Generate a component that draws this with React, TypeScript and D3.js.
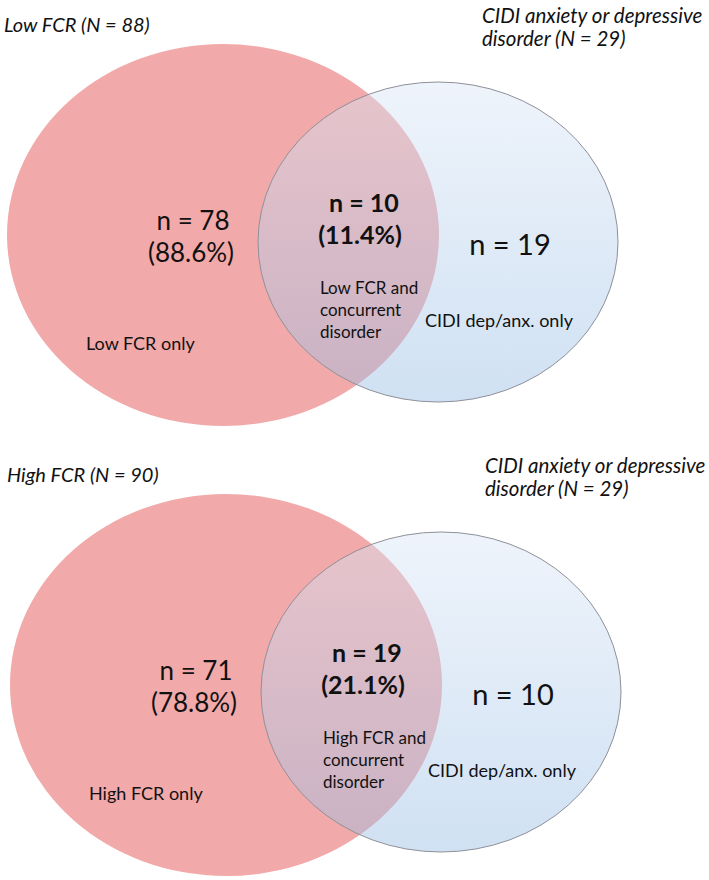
import React from "react";
import * as d3 from "d3";

// ---- data ----
const groupNames = ["Low FCR", "High FCR"];
const groupN = [88, 90];
const cidiN = [29, 29];
const fcrOnlyN = [78, 71];
const fcrOnlyPct = [88.6, 78.8];
const bothN = [10, 19];
const bothPct = [11.4, 21.1];
const cidiOnlyN = [19, 10];

const W = 709;
const H = 880;
const FONT = "Lato, 'Open Sans', sans-serif";

// panel placement (layout)
const panelY = d3.scaleOrdinal<number, number>().domain([0, 1]).range([0, 450]);
const panelX = d3.scaleOrdinal<number, number>().domain([0, 1]).range([0, 3]);

const pct = d3.format(".1f");

function Panel({ i }: { i: number }) {
  const g = groupNames[i];
  const tx = panelX(i);
  const ty = panelY(i);
  const txt = "#111";
  return (
    <g transform={`translate(${tx},${ty})`}>
      <ellipse cx={223} cy={235} rx={216} ry={191} fill="#F2A9A9" />
      <ellipse
        cx={438}
        cy={242}
        rx={180}
        ry={160}
        fill="url(#blueGrad)"
        stroke="#8f9099"
        strokeWidth={1}
      />
      <text x={4} y={24} fontStyle="italic" fontSize={20} fill={txt} dominantBaseline="central">
        {`${g} (N = ${groupN[i]})`}
      </text>
      <text x={482} y={15} fontStyle="italic" fontSize={20.5} fill={txt} dominantBaseline="central">
        CIDI anxiety or depressive
      </text>
      <text x={482} y={38} fontStyle="italic" fontSize={20.5} fill={txt} dominantBaseline="central">
        {`disorder (N = ${cidiN[i]})`}
      </text>

      <text x={193} y={220} fontSize={26} textAnchor="middle" fill={txt} dominantBaseline="central">
        {`n = ${fcrOnlyN[i]}`}
      </text>
      <text x={191} y={252} fontSize={26} textAnchor="middle" fill={txt} dominantBaseline="central">
        {`(${pct(fcrOnlyPct[i])}%)`}
      </text>

      <text x={364} y={202} fontSize={25} fontWeight="bold" textAnchor="middle" fill={txt} dominantBaseline="central">
        {`n = ${bothN[i]}`}
      </text>
      <text x={360} y={234} fontSize={25} fontWeight="bold" textAnchor="middle" fill={txt} dominantBaseline="central">
        {`(${pct(bothPct[i])}%)`}
      </text>

      <text x={510} y={243} fontSize={29} textAnchor="middle" fill={txt} dominantBaseline="central">
        {`n = ${cidiOnlyN[i]}`}
      </text>

      <text x={320} y={287} fontSize={17} fill={txt} dominantBaseline="central">
        {`${g} and`}
      </text>
      <text x={320} y={309} fontSize={17} fill={txt} dominantBaseline="central">
        concurrent
      </text>
      <text x={320} y={331} fontSize={17} fill={txt} dominantBaseline="central">
        disorder
      </text>

      <text x={425} y={320} fontSize={18} fill={txt} dominantBaseline="central">
        CIDI dep/anx. only
      </text>
      <text x={86} y={343} fontSize={18} fill={txt} dominantBaseline="central">
        {`${g} only`}
      </text>
    </g>
  );
}

export default function App() {
  return (
    <div style={{ position: "absolute", left: 0, top: 0, width: W, height: H, background: "#fff" }}>
      <svg width={W} height={H} fontFamily={FONT} style={{ display: "block" }}>
        <defs>
          <linearGradient id="blueGrad" x1="0" y1="0" x2="0" y2="1">
            <stop offset="0%" stopColor="rgb(218,230,246)" stopOpacity={0.45} />
            <stop offset="100%" stopColor="rgb(150,188,228)" stopOpacity={0.45} />
          </linearGradient>
        </defs>
        <rect width={W} height={H} fill="#fff" />
        {groupNames.map((_, i) => (
          <Panel key={i} i={i} />
        ))}
      </svg>
    </div>
  );
}
